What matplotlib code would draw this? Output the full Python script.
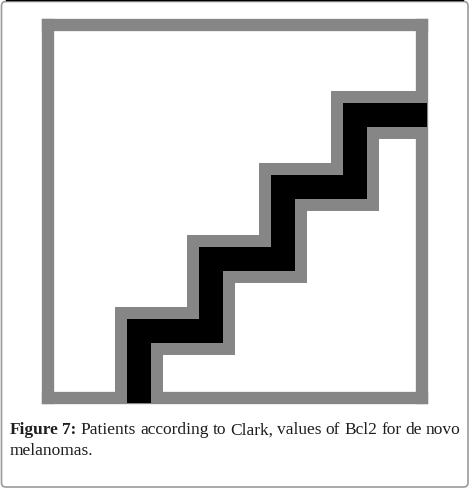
import matplotlib.pyplot as plt
from matplotlib.patches import FancyBboxPatch

# Clark level steps and Bcl2 level reached after each step
clark_steps = [1, 1, 2, 3, 4, 5]
bcl2_levels = [0, 1, 2, 3, 4, 4]

caption_line1 = [("Figure", "bold"), ("7:", "bold"), ("Patients", "normal"),
                 ("according", "normal"), ("to", "normal"), ("Clark,", "normal"),
                 ("values", "normal"), ("of", "normal"), ("Bcl2", "normal"),
                 ("for", "normal"), ("de", "normal"), ("novo", "normal")]
caption_line2 = "melanomas."

W, H = 474, 489
gray = '#868686'
txt_color = '#1e1e1e'

fig = plt.figure(figsize=(W / 100, H / 100), dpi=100)

# outer rounded border of the figure panel
border = FancyBboxPatch((1.5 / W, 1.0 / H), 466.5 / W, 485.5 / H,
                        boxstyle="round,pad=0,rounding_size=0.009",
                        transform=fig.transFigure, fill=False,
                        edgecolor='#9a9a9a', linewidth=1.2)
fig.patches.append(border)
fig.add_artist(plt.Line2D([6 / W, 463 / W], [1 - 0.6 / H, 1 - 0.6 / H],
                          transform=fig.transFigure, color='black', lw=1.0))

# plot area (spines form the thick gray frame)
ax = fig.add_axes([48.2 / W, 1 - 398.7 / H, (422 - 48.2) / W, (398.7 - 26) / H])
ax.set_xlim(-0.2611, 4.9306)
ax.set_ylim(0.0736, 5.25)
for s in ax.spines.values():
    s.set_color(gray)
    s.set_linewidth(12.3 * 72 / 100)
ax.set_xticks([])
ax.set_yticks([])

ax.step(clark_steps, bcl2_levels, where='post', color=gray, lw=48 * 0.72,
        solid_joinstyle='miter', solid_capstyle='butt', clip_on=False, zorder=3)
ax.step(clark_steps, bcl2_levels, where='post', color='black', lw=24 * 0.72,
        solid_joinstyle='miter', solid_capstyle='butt', clip_on=False, zorder=4)

# caption, justified on the first line
fs = 12.5
fam = ['Liberation Serif', 'DejaVu Serif']
x_left, x_right = 9.3, 460.5
y1, y2 = 434.5, 455.5
texts = [fig.text(0, 1 - y1 / H, w, fontsize=fs, fontweight=wt, family=fam,
                  color=txt_color, va='baseline', ha='left')
         for w, wt in caption_line1]
fig.canvas.draw()
r = fig.canvas.get_renderer()
widths = [t.get_window_extent(r).width for t in texts]
gap = (x_right - x_left - sum(widths)) / (len(texts) - 1)
x = x_left
for t, w in zip(texts, widths):
    t.set_x(x / W)
    x += w + gap
fig.text(x_left / W, 1 - y2 / H, caption_line2, fontsize=fs, family=fam,
         color=txt_color, va='baseline', ha='left')

fig.savefig('out.png', dpi=100)
